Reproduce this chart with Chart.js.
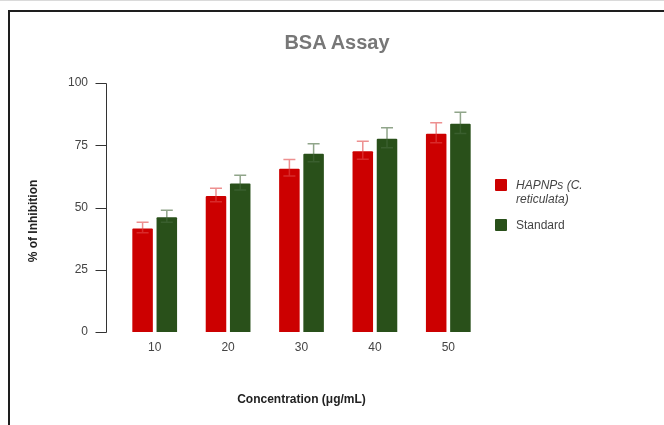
<!DOCTYPE html>
<html>
<head>
<meta charset="utf-8">
<script src="https://cdn.jsdelivr.net/npm/chart.js@4/dist/chart.umd.min.js"></script>
<style>
  html, body { margin: 0; padding: 0; background: #fff; }
  #wrap { position: relative; width: 664px; height: 425px; overflow: hidden;
          font-family: "Liberation Sans", Arial, sans-serif; }
  #topline { position: absolute; left: 0; top: 0; width: 664px; height: 1px; background: #dadada; }
  #frame { position: absolute; left: 8px; top: 10px; right: -10px; bottom: -10px;
           border-left: 2px solid #1e1e1e; border-top: 2px solid #1e1e1e; }
  canvas { position: absolute; left: 0; top: 0; }
  #title { position: absolute; left: 0; width: 674px; top: 30px; line-height: 24px;
           text-align: center; font-weight: bold; font-size: 20px; color: #777; }
  #ytitle { position: absolute; left: -42px; top: 213px; width: 150px; height: 16px; line-height: 16px;
            text-align: center; font-weight: bold; font-size: 12px; color: #222;
            transform: rotate(-90deg); transform-origin: 50% 50%; }
  #legend { position: absolute; left: 495px; top: 178px; margin: 0; padding: 0; list-style: none;
            font-size: 12px; color: #444; }
  #legend li { position: relative; padding-left: 21px; margin-bottom: 12px; line-height: 14px; width: 85px; }
  #legend li span.sw { position: absolute; left: 0; top: 1px; width: 12px; height: 12px; border-radius: 1px; }
</style>
</head>
<body>
<div id="wrap">
  <div id="topline"></div>
  <div id="frame"></div>
  <canvas id="c" width="664" height="425"></canvas>
  <div id="title">BSA Assay</div>
  <div id="ytitle">% of Inhibition</div>
  <ul id="legend"></ul>
</div>
<script>
// Concentrations on the x axis (µg/mL)
const concentrations = ['10', '20', '30', '40', '50'];

// Mean % inhibition and error for each series
const hapnpValues = [42, 55, 66, 73, 80];
const hapnpErrors = [2.1, 2.7, 3.3, 3.6, 4.0];
const standardValues = [46.5, 60, 72, 78, 84];
const standardErrors = [2.4, 3.0, 3.6, 4.0, 4.3];

// y axis tick values
const yTicks = [0, 25, 50, 75, 100];

const seriesNames = ['HAPNPs (C. reticulata)', 'Standard'];
const seriesColors = ['#cc0000', '#29501a'];
const errorColors = ['rgba(225, 70, 70, 0.6)', 'rgba(70, 105, 60, 0.6)'];
const errorSets = [hapnpErrors, standardErrors];

// Error bars with caps, positioned from the bar elements and y scale
const errorBars = {
  id: 'errorBars',
  afterDatasetsDraw(chart) {
    const ctx = chart.ctx;
    const y = chart.scales.y;
    chart.data.datasets.forEach((ds, i) => {
      const meta = chart.getDatasetMeta(i);
      const errs = errorSets[i];
      ctx.save();
      ctx.strokeStyle = errorColors[i];
      ctx.lineWidth = 1.5;
      meta.data.forEach((bar, j) => {
        const v = ds.data[j], e = errs[j];
        const yt = y.getPixelForValue(v + e);
        const yb = y.getPixelForValue(v - e);
        const x = bar.x, cap = 6;
        ctx.beginPath();
        ctx.moveTo(x, yt); ctx.lineTo(x, yb);
        ctx.moveTo(x - cap, yt); ctx.lineTo(x + cap, yt);
        ctx.moveTo(x - cap, yb); ctx.lineTo(x + cap, yb);
        ctx.stroke();
      });
      ctx.restore();
    });
  }
};

// y axis line and tick marks, set slightly left of the plotting area
const detachedYAxis = {
  id: 'detachedYAxis',
  afterDraw(chart) {
    const ctx = chart.ctx;
    const y = chart.scales.y;
    const x0 = Math.round(chart.chartArea.left - 12) + 0.5;
    ctx.save();
    ctx.strokeStyle = '#333';
    ctx.lineWidth = 1;
    ctx.beginPath();
    ctx.moveTo(x0, Math.round(y.getPixelForValue(y.max)) + 0.5);
    ctx.lineTo(x0, Math.round(y.getPixelForValue(y.min)) + 0.5);
    y.ticks.forEach(t => {
      const py = Math.round(y.getPixelForValue(t.value)) + 0.5;
      ctx.moveTo(x0 - 11, py);
      ctx.lineTo(x0, py);
    });
    ctx.stroke();
    ctx.restore();
  }
};

const chart = new Chart(document.getElementById('c'), {
  type: 'bar',
  data: {
    labels: concentrations,
    datasets: [
      { label: seriesNames[0], data: hapnpValues, backgroundColor: seriesColors[0],
        borderColor: 'rgba(255,255,255,0.35)', borderWidth: 1, borderRadius: 2,
        categoryPercentage: 0.66, barPercentage: 0.93 },
      { label: seriesNames[1], data: standardValues, backgroundColor: seriesColors[1],
        borderColor: 'rgba(255,255,255,0.35)', borderWidth: 1, borderRadius: 2,
        categoryPercentage: 0.66, barPercentage: 0.93 }
    ]
  },
  options: {
    responsive: false,
    animation: false,
    layout: { padding: { top: 83, right: 179, bottom: 0, left: 0 } },
    plugins: {
      legend: { display: false },
      title: { display: false },
      tooltip: { enabled: false }
    },
    scales: {
      x: {
        offset: true,
        grid: { display: false, drawTicks: false, tickLength: 0 },
        border: { display: false },
        ticks: { padding: 8, color: '#444', font: { family: '"Liberation Sans", Arial, sans-serif', size: 12 } },
        title: { display: true, text: 'Concentration (μg/mL)', color: '#222',
                 font: { family: '"Liberation Sans", Arial, sans-serif', size: 12, weight: 'bold' },
                 padding: { top: 4, bottom: 18 } },
        afterFit(scale) { scale.height = 93; }
      },
      y: {
        min: 0, max: 100,
        afterBuildTicks(scale) { scale.ticks = yTicks.map(v => ({ value: v })); },
        grid: { display: false, drawTicks: false, tickLength: 0 },
        border: { display: false },
        ticks: { padding: 30, color: '#444', font: { family: '"Liberation Sans", Arial, sans-serif', size: 12 } },
        afterFit(scale) { scale.width = 118; }
      }
    }
  },
  plugins: [errorBars, detachedYAxis]
});

// Legend built from the chart's datasets
const legend = document.getElementById('legend');
chart.data.datasets.forEach((ds, i) => {
  const li = document.createElement('li');
  const sw = document.createElement('span');
  sw.className = 'sw';
  sw.style.background = ds.backgroundColor;
  li.appendChild(sw);
  const txt = document.createElement('span');
  txt.textContent = ds.label;
  if (i === 0) txt.style.fontStyle = 'italic';
  li.appendChild(txt);
  legend.appendChild(li);
});
</script>
</body>
</html>
